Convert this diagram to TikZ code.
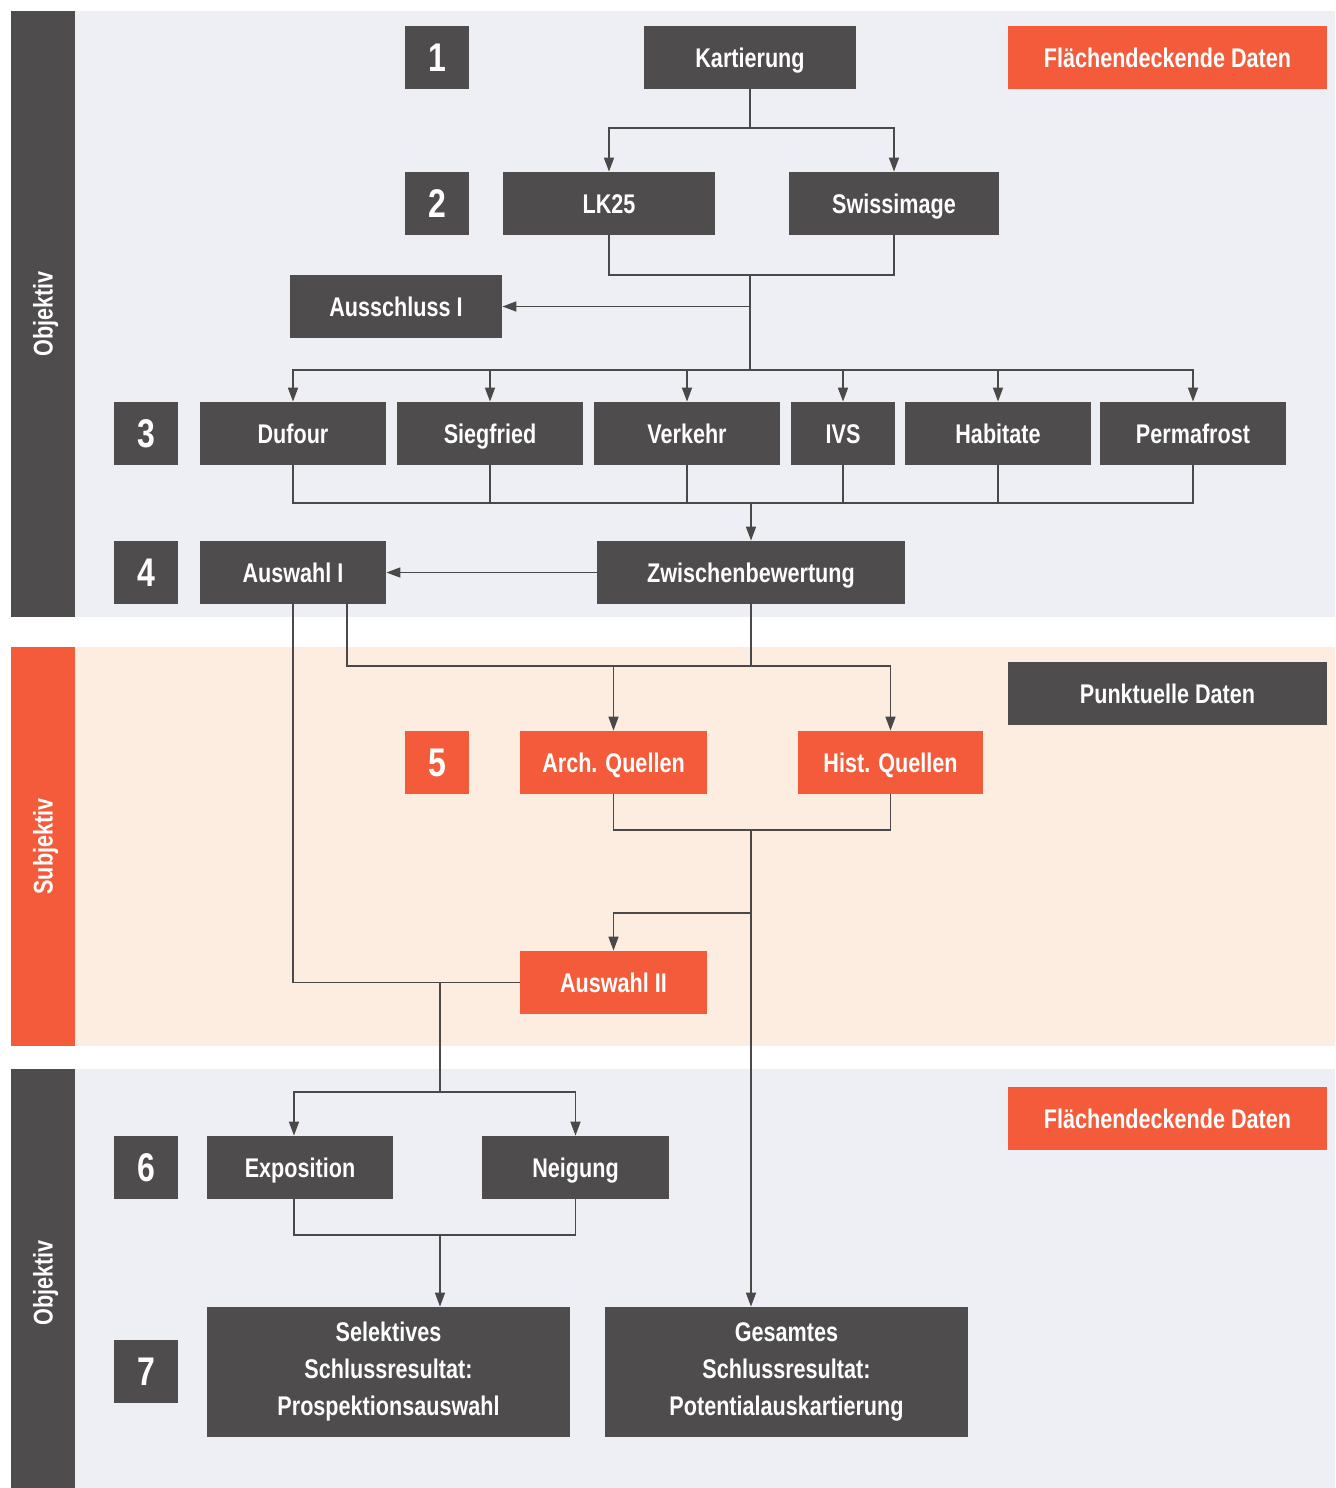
\documentclass[tikz,border=0pt]{standalone}
\usepackage{fontspec}
\setmainfont{Liberation Sans}[FakeStretch=0.8]
\usepackage{tikz}
\usetikzlibrary{arrows.meta, positioning, calc}
\definecolor{dgrey}{HTML}{4E4C4C}
\definecolor{orng}{HTML}{F35B3B}
\definecolor{lav}{HTML}{EEEFF5}
\definecolor{peach}{HTML}{FDECE0}
\definecolor{wire}{HTML}{4A4848}
\tikzstyle{block} = [fill=dgrey, rectangle, text=white, inner sep=0pt, minimum height=31.5pt, text height=9.7pt, text depth=0pt, font=\fontsize{13.5}{18.5}\selectfont\bfseries]
\tikzstyle{oblock} = [block, fill=orng]
\tikzstyle{num} = [block, minimum width=32pt, text height=14.3pt, font=\fontsize{20}{24}\selectfont\bfseries]
\tikzstyle{side} = [rotate=90, text=white, text height=9.7pt, text depth=0pt, font=\fontsize{13.5}{15}\selectfont\bfseries]

\begin{document}
\begin{tikzpicture}[x=0.5pt, y=-0.5pt, >={Triangle[width=5pt,length=7pt]}, wire/.style={draw=wire, line width=0.8pt}]
  % bands
  \fill[white] (0,0) rectangle (1335,1488);
  \useasboundingbox (0,0) rectangle (1335,1488);
  \fill[lav] (75,11) rectangle (1335,617);
  \fill[dgrey] (11,11) rectangle (75,617);
  \fill[peach] (75,647) rectangle (1335,1046);
  \fill[orng] (11,647) rectangle (75,1046);
  \fill[lav] (75,1069) rectangle (1335,1488);
  \fill[dgrey] (11,1069) rectangle (75,1488);
  \node[side] (obj1) at (43,314) {Objektiv};
  \node[side] (subj) at (43,846.5) {Subjektiv};
  \node[side] (obj2) at (43,1283) {Objektiv};

  % legend
  \node[oblock, minimum width=159.5pt] (flaeche1) at (1167.5,57.5) {Flächendeckende Daten};
  \node[block, minimum width=159.5pt] (punkt) at (1167.5,693.5) {Punktuelle Daten};
  \node[oblock, minimum width=159.5pt] (flaeche2) at (1167.5,1118.5) {Flächendeckende Daten};

  % step numbers
  \node[num] (n1) at (437,57.5) {1};
  \node[num] (n2) at (437,203.5) {2};
  \node[num] (n3) at (146,433.5) {3};
  \node[num] (n4) at (146,572.5) {4};
  \node[num, fill=orng] (n5) at (437,762.5) {5};
  \node[num] (n6) at (146,1167.5) {6};
  \node[num] (n7) at (146,1371.5) {7};

  % steps 1-2
  \node[block, minimum width=106pt] (kart) at (750,57.5) {Kartierung};
  \node[block, minimum width=106pt] (lk) at (609,203.5) {LK25};
  \node[block, minimum width=105pt, right of=lk, node distance=142.5pt] (swiss) {Swissimage};
  \node[block, minimum width=106pt] (aus) at (396,306.5) {Ausschluss I};

  % step 3
  \node[block, minimum width=93pt] (dufour) at (293,433.5) {Dufour};
  \node[block, minimum width=93pt, right of=dufour, node distance=98.5pt] (sieg) {Siegfried};
  \node[block, minimum width=93pt, right of=sieg, node distance=98.5pt] (verk) {Verkehr};
  \node[block, minimum width=52pt, right of=verk, node distance=78pt] (ivs) {IVS};
  \node[block, minimum width=93pt, right of=ivs, node distance=77.5pt] (hab) {Habitate};
  \node[block, minimum width=93pt, right of=hab, node distance=97.5pt] (perma) {Permafrost};

  % step 4
  \node[block, minimum width=93pt] (aw1) at (293,572.5) {Auswahl I};
  \node[block, minimum width=154pt] (zwb) at (751,572.5) {Zwischenbewertung};

  % step 5
  \node[oblock, minimum width=93.5pt] (aq) at (613.5,762.5) {Arch. Quellen};
  \node[oblock, minimum width=92.5pt, right of=aq, node distance=138.5pt] (hq) {Hist. Quellen};
  \node[oblock, minimum width=93.5pt] (aw2) at (613.5,982.5) {Auswahl II};

  % steps 6-7
  \node[block, minimum width=93pt] (expo) at (300,1167.5) {Exposition};
  \node[block, minimum width=93.5pt] (neig) at (575.5,1167.5) {Neigung};
  \node[block, minimum width=181.5pt, minimum height=65pt, text height={}, text depth={}, align=center] (sel) at (388.5,1372) {Selektives\\Schlussresultat:\\Prospektionsauswahl};
  \node[block, minimum width=181.5pt, minimum height=65pt, text height={}, text depth={}, align=center] (ges) at (786.5,1372) {Gesamtes\\Schlussresultat:\\Potentialauskartierung};

  % junctions
  \coordinate (j1) at (750,128);
  \coordinate (j2) at (750,275);
  \coordinate (j2a) at (750,306.5);
  \coordinate (j3) at (750,370);
  \coordinate (j4) at (751,503);
  \coordinate (j5) at (751,666);
  \coordinate (j6) at (751,830);
  \coordinate (j7) at (751,913);
  \coordinate (j8) at (440,982.5);
  \coordinate (j9) at (440,1092);
  \coordinate (j10) at (440,1235);

  % connectors
  \draw[wire] (kart) -- (j1);
  \draw[wire, ->] (j1) -| (lk);
  \draw[wire, ->] (j1) -| (swiss);
  \draw[wire] (lk) |- (j2) -| (swiss);
  \draw[wire] (j2) -- (j3);
  \draw[wire, ->] (j2a) -- (aus);
  \foreach \n in {dufour, sieg, verk, ivs, hab, perma}
    \draw[wire, ->] (j3) -| (\n);
  \foreach \n in {dufour, sieg, verk, ivs, hab, perma}
    \draw[wire] (\n) |- (j4);
  \draw[wire, ->] (j4) -- (zwb);
  \draw[wire, ->] (zwb) -- (aw1);
  \draw[wire] (aw1) |- (aw2);
  \draw[wire] (zwb) -- (j5);
  \draw[wire, ->] ([xshift=27pt]aw1.south) |- (j5) -| (hq);
  \draw[wire, ->] (j5 -| aq) -- (aq);
  \draw[wire] (aq) |- (j6) -| (hq);
  \draw[wire, ->] (j6) -- (j6 |- ges.north);
  \draw[wire, ->] (j7) -| (aw2);
  \draw[wire] (j8) -- (j9);
  \draw[wire, ->] (j9) -| ([xshift=-3pt]expo.north);
  \draw[wire, ->] (j9) -| (neig);
  \draw[wire] ([xshift=-3pt]expo.south) |- (j10) -| (neig);
  \draw[wire, ->] (j10) -- (j10 |- sel.north);
\end{tikzpicture}
\end{document}
